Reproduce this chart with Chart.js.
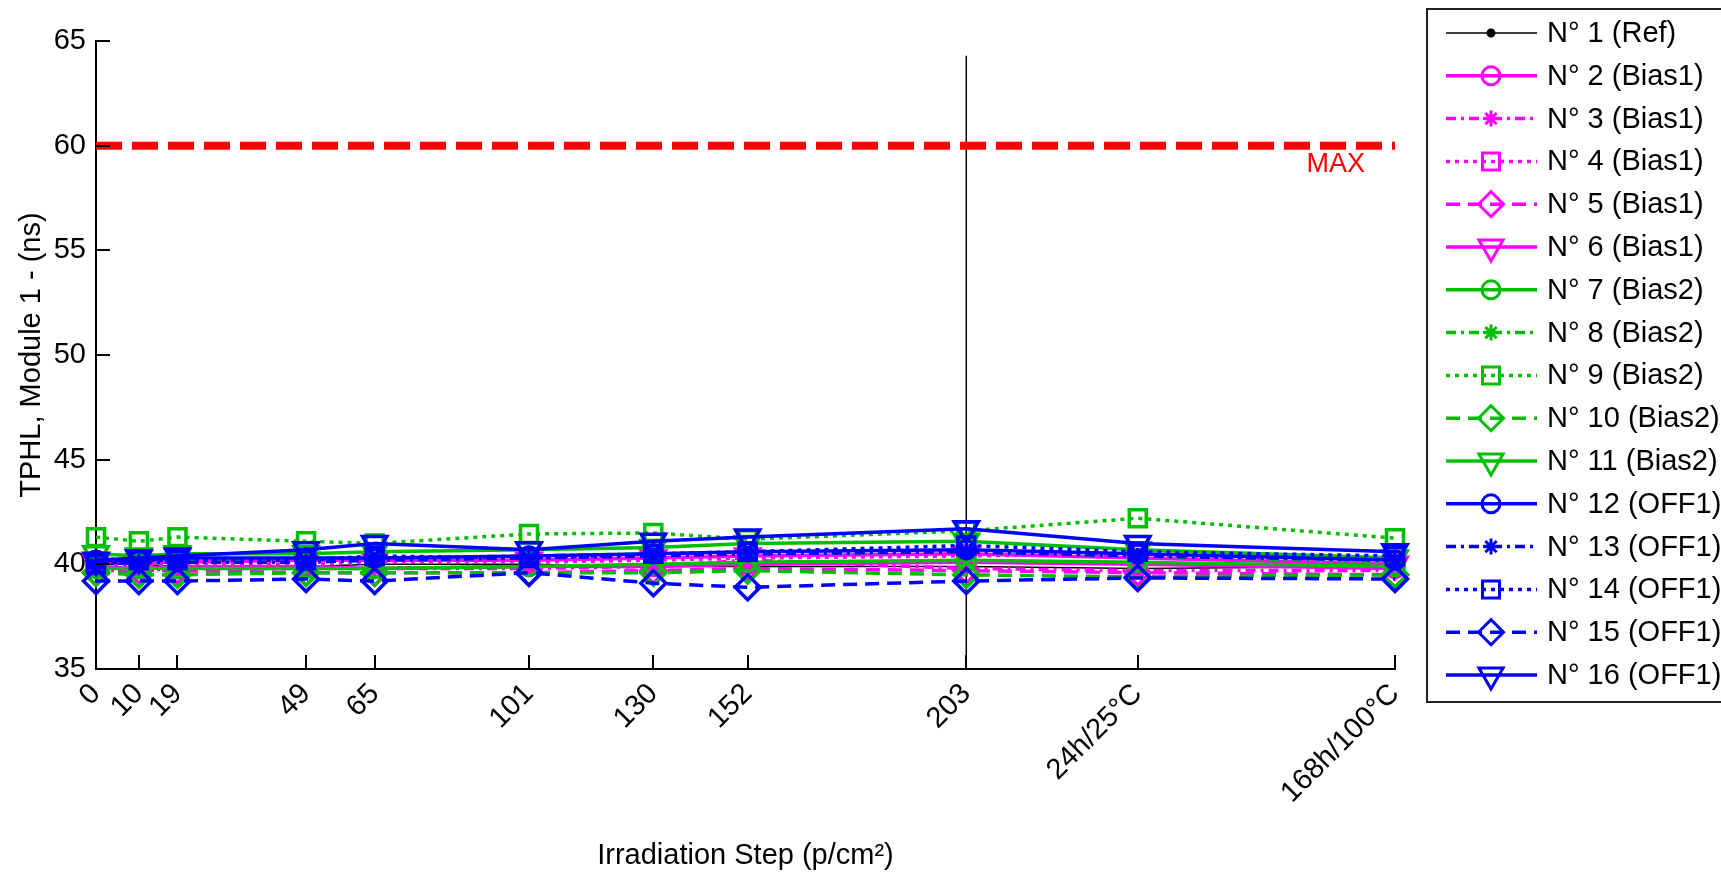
<!DOCTYPE html>
<html>
<head>
<meta charset="utf-8">
<script src="https://cdn.jsdelivr.net/npm/chart.js@4.4.0/dist/chart.umd.min.js"></script>
<style>
  html, body { margin: 0; padding: 0; background: #fff; }
  #wrap { width: 1721px; height: 875px; }
</style>
</head>
<body>
<div id="wrap"><canvas id="chart" width="1721" height="875"></canvas></div>
<script>
// x positions of the irradiation steps (last two are annealing steps)
const xPositions = [0, 10, 19, 49, 65, 101, 130, 152, 203, 243, 303];
const xLabels = ["0", "10", "19", "49", "65", "101", "130", "152", "203", "24h/25°C", "168h/100°C"];
const yTicks = [35, 40, 45, 50, 55, 60, 65];

const seriesNames = [
  "N° 1 (Ref)", "N° 2 (Bias1)", "N° 3 (Bias1)", "N° 4 (Bias1)", "N° 5 (Bias1)", "N° 6 (Bias1)",
  "N° 7 (Bias2)", "N° 8 (Bias2)", "N° 9 (Bias2)", "N° 10 (Bias2)", "N° 11 (Bias2)",
  "N° 12 (OFF1)", "N° 13 (OFF1)", "N° 14 (OFF1)", "N° 15 (OFF1)", "N° 16 (OFF1)",
];

// TPHL values (ns), one array per device
const n1 = [40.0, 40.0, 39.9, 39.9, 40.0, 40.0, 39.9, 39.9, 39.9, 39.8, 39.9];
const n2 = [39.9, 39.8, 39.9, 39.9, 39.8, 39.9, 39.9, 40.0, 40.1, 40.0, 39.8];
const n3 = [39.7, 39.7, 39.8, 39.8, 39.8, 39.8, 39.9, 40.2, 39.8, 39.7, 39.7];
const n4 = [39.9, 40.0, 40.0, 40.0, 40.1, 40.1, 40.2, 40.3, 40.4, 40.5, 40.0];
const n5 = [39.6, 39.7, 39.7, 39.6, 39.6, 39.6, 39.7, 39.8, 39.7, 39.6, 39.5];
const n6 = [40.1, 40.1, 40.1, 40.2, 40.2, 40.2, 40.3, 40.4, 40.5, 40.3, 40.0];
const n7 = [39.8, 39.8, 39.8, 39.8, 39.8, 39.9, 40.0, 40.1, 40.2, 40.1, 39.9];
const n8 = [40.3, 40.2, 40.2, 40.3, 40.3, 40.4, 40.5, 40.5, 40.6, 40.4, 40.1];
const n9 = [41.3, 41.1, 41.3, 41.1, 41.0, 41.45, 41.5, 41.2, 41.6, 42.2, 41.25];
const n10 = [39.6, 39.5, 39.5, 39.6, 39.6, 39.6, 39.6, 39.7, 39.5, 39.4, 39.5];
const n11 = [40.5, 40.4, 40.5, 40.5, 40.6, 40.7, 40.8, 41.0, 41.1, 40.7, 40.3];
const n12 = [40.2, 40.2, 40.3, 40.3, 40.3, 40.4, 40.5, 40.6, 40.7, 40.5, 40.2];
const n13 = [40.0, 40.1, 40.1, 40.1, 40.2, 40.3, 40.4, 40.5, 40.6, 40.4, 40.2];
const n14 = [40.0, 40.2, 40.2, 40.2, 40.4, 40.3, 40.5, 40.6, 40.9, 40.6, 40.4];
const n15 = [39.2, 39.2, 39.2, 39.3, 39.2, 39.6, 39.1, 38.9, 39.2, 39.35, 39.3];
const n16 = [40.2, 40.3, 40.4, 40.7, 41.0, 40.7, 41.1, 41.3, 41.7, 41.0, 40.6];
const allSeries = [n1, n2, n3, n4, n5, n6, n7, n8, n9, n10, n11, n12, n13, n14, n15, n16];

// limit line and the marker at the end of irradiation
const maxLimit = 60;
const irradiationEnd = 203;
const irradiationEndTop = 64.3;

const MAGENTA = "#ff00ff";
const GREEN = "#00bf00";
const BLUE = "#0000ff";

const SOLID = [];
const DASHDOT = [10, 5, 3, 5];
const DOTTED = [4, 5];
const DASHED = [14, 8];

// per-group styling (line style + marker), MATLAB-like
const groupStyles = [
  { dash: SOLID, pointStyle: "circle", rotation: 0, radius: 9 },
  { dash: DASHDOT, pointStyle: "star", rotation: 0, radius: 8 },
  { dash: DOTTED, pointStyle: "rect", rotation: 0, radius: 12 },
  { dash: DASHED, pointStyle: "rectRot", rotation: 0, radius: 12.5 },
  { dash: SOLID, pointStyle: "triangle", rotation: 180, radius: 14 },
];

function styleFor(i) {
  if (i === 0) {
    return { color: "#000", dash: SOLID, pointStyle: "circle", rotation: 0, width: 1.5, radius: 3, fill: "#000" };
  }
  const color = i <= 5 ? MAGENTA : i <= 10 ? GREEN : BLUE;
  const g = groupStyles[(i - 1) % 5];
  return {
    color,
    dash: g.dash,
    pointStyle: g.pointStyle,
    rotation: g.rotation,
    width: 3.5,
    radius: g.radius,
    fill: g.pointStyle === "star" ? color : "rgba(0,0,0,0)",
  };
}

const datasets = allSeries.map((vals, i) => {
  const st = styleFor(i);
  return {
    label: seriesNames[i],
    data: vals.map((v, k) => ({ x: xPositions[k], y: v })),
    borderColor: st.color,
    borderWidth: st.width,
    borderDash: st.dash,
    pointStyle: st.pointStyle,
    pointRotation: st.rotation,
    pointRadius: st.radius,
    pointBorderWidth: 3.5,
    pointBorderColor: st.color,
    pointBackgroundColor: st.fill,
    tension: 0,
    clip: false,
    order: 16 - i,
  };
});

datasets.push({
  label: "MAX",
  data: [{ x: xPositions[0], y: maxLimit }, { x: xPositions[xPositions.length - 1], y: maxLimit }],
  borderColor: "#ff0000",
  borderWidth: 8,
  borderDash: [26, 10],
  pointRadius: 0,
  order: 30,
});

datasets.push({
  label: "end",
  data: [{ x: irradiationEnd, y: 35 }, { x: irradiationEnd, y: irradiationEndTop }],
  borderColor: "#000",
  borderWidth: 1.5,
  pointRadius: 0,
  order: 31,
});

Chart.defaults.font.family = "'Liberation Sans', Arial, sans-serif";
Chart.defaults.color = "#000";

// tick marks pointing into the plot, like MATLAB axes
const innerTicks = {
  id: "innerTicks",
  afterDraw(chart) {
    const { ctx, chartArea, scales } = chart;
    ctx.save();
    ctx.strokeStyle = "#000";
    ctx.lineWidth = 2;
    ctx.setLineDash([]);
    ctx.beginPath();
    scales.x.ticks.forEach((t) => {
      const px = Math.round(scales.x.getPixelForValue(t.value));
      ctx.moveTo(px, chartArea.bottom);
      ctx.lineTo(px, chartArea.bottom - 14);
    });
    scales.y.ticks.forEach((t) => {
      const py = Math.round(scales.y.getPixelForValue(t.value));
      ctx.moveTo(chartArea.left, py);
      ctx.lineTo(chartArea.left + 14, py);
    });
    ctx.stroke();

    // MAX label under the limit line
    ctx.fillStyle = "#ff0000";
    ctx.font = "27px 'Liberation Sans', Arial, sans-serif";
    ctx.textAlign = "right";
    ctx.textBaseline = "middle";
    ctx.fillText("MAX", scales.x.getPixelForValue(296), scales.y.getPixelForValue(59.1));
    ctx.restore();
  },
};

// boxed legend with line style + marker samples
const boxLegend = {
  id: "boxLegend",
  afterDraw(chart) {
    const { ctx } = chart;
    const left = 1427, top = 9, bottom = 702;
    const rowH = 42.8, firstRow = 33;
    ctx.save();
    ctx.strokeStyle = "#222";
    ctx.lineWidth = 2;
    ctx.setLineDash([]);
    ctx.fillStyle = "#fff";
    ctx.fillRect(left, top, 400, bottom - top);
    ctx.strokeRect(left, top, 400, bottom - top);

    ctx.font = "29px 'Liberation Sans', Arial, sans-serif";
    ctx.textBaseline = "middle";
    ctx.textAlign = "left";
    seriesNames.forEach((name, i) => {
      const st = styleFor(i);
      const y = firstRow + i * rowH;
      ctx.strokeStyle = st.color;
      ctx.lineWidth = st.width;
      ctx.setLineDash(st.dash);
      ctx.beginPath();
      ctx.moveTo(1446, y);
      ctx.lineTo(1537, y);
      ctx.stroke();
      ctx.setLineDash([]);
      ctx.lineWidth = 3;
      ctx.fillStyle = st.fill;
      Chart.helpers.drawPoint(ctx, {
        pointStyle: st.pointStyle,
        rotation: st.rotation,
        radius: st.radius,
        borderWidth: 3,
      }, 1491, y);
      ctx.fillStyle = "#000";
      ctx.fillText(name, 1547, y + 1);
    });
    ctx.restore();
  },
};

new Chart(document.getElementById("chart"), {
  type: "line",
  data: { datasets },
  options: {
    responsive: false,
    animation: false,
    layout: { padding: { top: 41, right: 326, bottom: 0, left: 0 } },
    plugins: { legend: { display: false }, tooltip: { enabled: false } },
    scales: {
      x: {
        type: "linear",
        min: 0,
        max: 303,
        afterBuildTicks: (scale) => {
          scale.ticks = xPositions.map((v) => ({ value: v }));
        },
        afterFit: (scale) => {
          scale.height = 206;
        },
        ticks: {
          autoSkip: false,
          minRotation: 45,
          maxRotation: 45,
          padding: 8,
          font: { size: 29 },
          callback: (v) => xLabels[xPositions.indexOf(v)],
        },
        grid: { display: false, drawTicks: false },
        border: { display: true, color: "#000", width: 2 },
        title: {
          display: true,
          text: "Irradiation Step (p/cm²)",
          font: { size: 29 },
          padding: { top: 0, bottom: 2 },
        },
      },
      y: {
        min: 35,
        max: 65,
        afterBuildTicks: (scale) => {
          scale.ticks = yTicks.map((v) => ({ value: v }));
        },
        afterFit: (scale) => {
          scale.width = 96;
        },
        ticks: { padding: 10, font: { size: 29 } },
        grid: { display: false, drawTicks: false },
        border: { display: true, color: "#000", width: 2 },
        title: {
          display: true,
          text: "TPHL, Module 1 - (ns)",
          font: { size: 29 },
          padding: { top: 15, bottom: 0 },
        },
      },
    },
  },
  plugins: [innerTicks, boxLegend],
});
</script>
</body>
</html>
